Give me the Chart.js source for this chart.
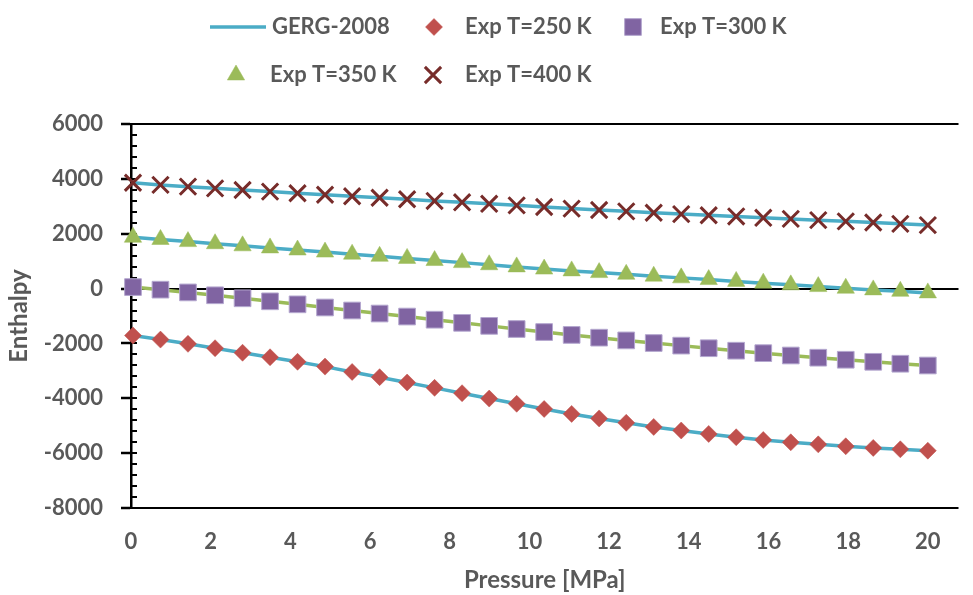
<!DOCTYPE html>
<html><head><meta charset="utf-8">
<script src="https://cdn.jsdelivr.net/npm/chart.js@4.4.1/dist/chart.umd.min.js"></script>
<style>html,body{margin:0;padding:0;background:#fff;overflow:hidden}</style>
</head><body>
<canvas id="c" width="973" height="595"></canvas>
<script>
// ---- data ----
const pressure = [0.05, 0.74, 1.43, 2.11, 2.80, 3.49, 4.18, 4.87, 5.55, 6.24, 6.93, 7.62, 8.31, 8.99, 9.68,
                  10.37, 11.06, 11.75, 12.43, 13.12, 13.81, 14.50, 15.19, 15.87, 16.56, 17.25, 17.94, 18.63, 19.31, 20.00];
const h250 = [-1710, -1860, -2015, -2175, -2340, -2505, -2670, -2845, -3040, -3230, -3425, -3620, -3815, -4010, -4200,
              -4390, -4570, -4735, -4895, -5045, -5175, -5300, -5420, -5520, -5605, -5680, -5750, -5810, -5860, -5910];
const h300 = [55, -40, -140, -245, -355, -465, -575, -690, -800, -910, -1020, -1135, -1250, -1360, -1475,
              -1585, -1690, -1790, -1890, -1985, -2080, -2175, -2265, -2355, -2440, -2520, -2595, -2670, -2740, -2805];
const h350 = [1870, 1790, 1712, 1635, 1558, 1482, 1406, 1330, 1252, 1176, 1100, 1022, 946, 868, 790,
              710, 645, 582, 520, 452, 390, 328, 262, 198, 135, 72, 12, -48, -100, -158];
const h400 = [3860, 3780, 3715, 3655, 3595, 3535, 3475, 3420, 3365, 3310, 3255, 3195, 3145, 3090, 3035,
              2975, 2915, 2865, 2815, 2765, 2715, 2675, 2630, 2580, 2540, 2495, 2450, 2410, 2360, 2315];
const seriesLabels = ['GERG-2008', 'Exp T=250 K', 'Exp T=300 K', 'Exp T=350 K', 'Exp T=400 K'];
const xTickValues = [0, 2, 4, 6, 8, 10, 12, 14, 16, 18, 20];
const yTickValues = [-8000, -6000, -4000, -2000, 0, 2000, 4000, 6000];
const yMinorStep = 400;
const xAxisTitle = 'Pressure [MPa]';
const yAxisTitle = 'Enthalpy';

// ---- styles ----
const TEXT = '#595959';
const FONT = 'Lato';
const BLUE = '#4BACC6', GREEN = '#9BBB59', RED = '#C0504D', PURPLE = '#8064A2', DARKRED = '#772C2A';

const pts = arr => pressure.map((p, i) => ({x: p, y: arr[i]}));
const lineDs = (arr, color, label) => ({
  label: label, data: pts(arr), showLine: true, borderColor: color, backgroundColor: color,
  borderWidth: 3.5, pointRadius: 0, pointHoverRadius: 0, fill: false, clip: false
});

const datasets = [
  {label: seriesLabels[1], data: pts(h250), pointStyle: 'rectRot', pointRadius: 8.5, backgroundColor: RED, borderColor: RED, borderWidth: 0.5, clip: false},
  {label: seriesLabels[2], data: pts(h300), pointStyle: 'rect', pointRadius: 11.8, backgroundColor: PURPLE, borderColor: '#B4A7CF', borderWidth: 1, clip: false},
  {label: seriesLabels[3], data: pts(h350), pointStyle: 'triangle', pointRadius: 10, backgroundColor: GREEN, borderColor: GREEN, borderWidth: 0.5, clip: false},
  {label: seriesLabels[4], data: pts(h400), pointStyle: 'crossRot', pointRadius: 11.5, backgroundColor: DARKRED, borderColor: DARKRED, borderWidth: 3, clip: false},
  lineDs(h250, BLUE, seriesLabels[0]),
  lineDs(h300, GREEN, ''),
  lineDs(h350, BLUE, ''),
  lineDs(h400, BLUE, '')
];

// legend entries: [dataset index, marker center x, text x, row y]
const legendItems = [
  {ds: 4, cx: 240, tx: 272, y: 27, line: true},
  {ds: 0, cx: 434, tx: 465, y: 27},
  {ds: 1, cx: 633, tx: 660, y: 27},
  {ds: 2, cx: 236, tx: 270, y: 75},
  {ds: 3, cx: 433, tx: 465, y: 75}
];

function drawMarker(ctx, d, x, y) {
  const opts = {pointStyle: d.pointStyle, radius: d.pointRadius, rotation: 0, borderWidth: d.borderWidth};
  ctx.fillStyle = d.backgroundColor;
  ctx.strokeStyle = d.borderColor;
  ctx.lineWidth = d.borderWidth;
  if (Chart.helpers && Chart.helpers.drawPoint) {
    Chart.helpers.drawPoint(ctx, opts, x, y);
  }
}

const legendPlugin = {
  id: 'customLegend',
  afterDraw(chart) {
    const ctx = chart.ctx;
    const ds = chart.data.datasets;
    ctx.save();
    legendItems.forEach(it => {
      const d = ds[it.ds];
      if (it.line) {
        ctx.strokeStyle = d.borderColor;
        ctx.lineWidth = d.borderWidth;
        ctx.beginPath();
        ctx.moveTo(it.cx - 30, it.y);
        ctx.lineTo(it.cx + 26, it.y);
        ctx.stroke();
      } else {
        drawMarker(ctx, d, it.cx, it.y);
      }
      ctx.fillStyle = TEXT;
      ctx.font = 'bold 22px ' + FONT;
      ctx.textBaseline = 'middle';
      ctx.textAlign = 'left';
      ctx.fillText(d.label, it.tx, it.y);
    });
    ctx.restore();
  }
};

const minorTickPlugin = {
  id: 'minorTicks',
  beforeDatasetsDraw(chart) {
    const ctx = chart.ctx;
    const ys = chart.scales.y;
    const x0 = chart.chartArea.left;
    ctx.save();
    ctx.strokeStyle = '#000';
    ctx.lineWidth = 2;
    ctx.beginPath();
    for (let v = ys.min; v <= ys.max + 1e-6; v += yMinorStep) {
      const py = Math.round(ys.getPixelForValue(v));
      ctx.moveTo(x0, py);
      ctx.lineTo(x0 + 6, py);
    }
    ctx.stroke();
    ctx.restore();
  }
};

const keyLines = [yTickValues[0], 0, yTickValues[yTickValues.length - 1]];

new Chart(document.getElementById('c'), {
  type: 'scatter',
  data: {datasets},
  plugins: [minorTickPlugin, legendPlugin],
  options: {
    responsive: false,
    animation: false,
    devicePixelRatio: 1,
    layout: {padding: {top: 124, left: 0, right: 0, bottom: 0}},
    plugins: {legend: {display: false}, tooltip: {enabled: false}},
    scales: {
      x: {
        type: 'linear', min: 0, max: 20.77,
        afterBuildTicks: s => { s.ticks = xTickValues.map(v => ({value: v})); },
        afterFit: s => { s.height = 87; },
        grid: {display: false, drawTicks: false},
        border: {display: false},
        ticks: {color: TEXT, padding: 21, font: {family: FONT, size: 22, weight: 'bold'}, maxRotation: 0, autoSkip: false,
                callback: v => String(v)},
        title: {display: true, text: xAxisTitle, color: TEXT, padding: {top: 0, bottom: 0}, font: {family: FONT, size: 24, weight: 'bold'}}
      },
      y: {
        type: 'linear', min: yTickValues[0], max: yTickValues[yTickValues.length - 1],
        afterBuildTicks: s => { s.ticks = yTickValues.map(v => ({value: v})); },
        afterFit: s => { s.width = 131; },
        grid: {
          drawTicks: true, tickLength: 10, tickWidth: 2.5, tickColor: '#000',
          lineWidth: 2,
          color: c => (c.tick && keyLines.includes(c.tick.value)) ? '#000' : 'rgba(0,0,0,0)'
        },
        border: {display: true, color: '#000', width: 2.5},
        ticks: {color: TEXT, padding: 18, font: {family: FONT, size: 22, weight: 'bold'}, autoSkip: false,
                callback: v => String(v)},
        title: {display: true, text: yAxisTitle, color: TEXT, padding: {top: 5, bottom: 0}, font: {family: FONT, size: 24, weight: 'bold'}}
      }
    }
  }
});
</script>
</body></html>
